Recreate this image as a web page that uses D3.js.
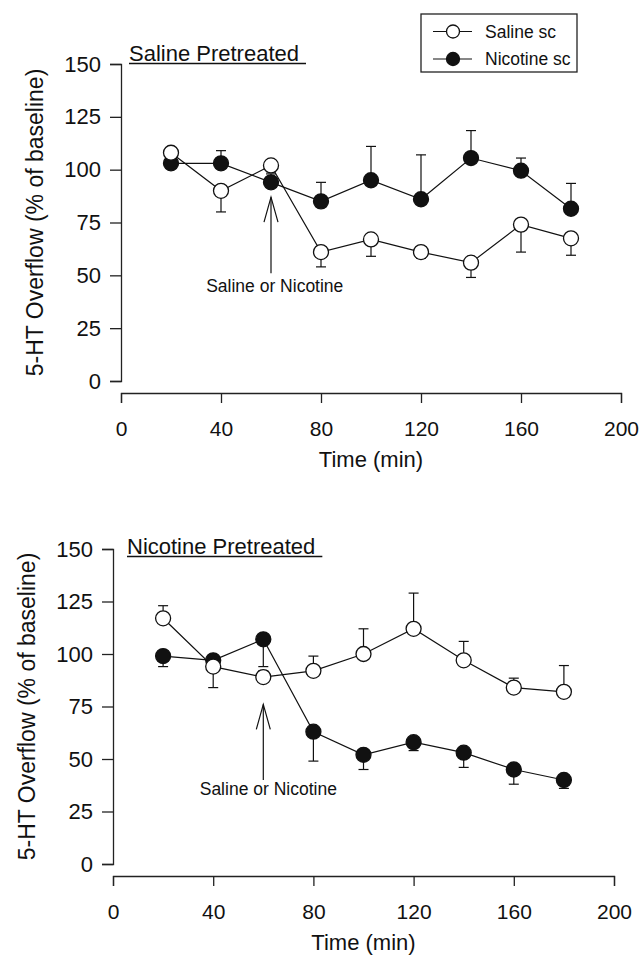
<!DOCTYPE html>
<html>
<head>
<meta charset="utf-8">
<script src="https://d3js.org/d3.v7.min.js"></script>
<style>
  body { margin: 0; background: #fff; }
  svg { display: block; }
</style>
</head>
<body>
<svg id="chart"></svg>
<script>
// data
const times = [20, 40, 60, 80, 100, 120, 140, 160, 180];
const xTicks = [0, 40, 80, 120, 160, 200];
const yTicks = [0, 25, 50, 75, 100, 125, 150];

// Saline pretreated (error: negative = bar drawn downward)
const salPreSaline = [108, 90, 102, 61, 67, 61, 56, 74, 67.5];
const salPreSalineErr = [-2, -10, -3, -7, -8, -3, -7, -13, -8];
const salPreNicotine = [103, 103, 94, 85, 95, 86, 105.5, 99.5, 81.5];
const salPreNicotineErr = [2, 6, 4, 9, 16, 21, 13, 6, 12];

// Nicotine pretreated
const nicPreSaline = [117, 94, 89, 92, 100, 112, 97, 84, 82];
const nicPreSalineErr = [6, -10, 3, 7, 12, 17, 9, 4.5, 12.5];
const nicPreNicotine = [99, 97, 107, 63, 52, 58, 53, 45, 40];
const nicPreNicotineErr = [-5, -3, -13, -14, -7, -4, -7, -7, -4];

// injection arrow (time, from value, to value) and its label (time, value)
const salPreArrow = [60, 51, 87];
const salPreLabel = [61.5, 42];
const nicPreArrow = [60, 40, 76];
const nicPreLabel = [62, 33];

const legendNames = ['Saline sc', 'Nicotine sc'];
const annotation = 'Saline or Nicotine';

const font = "'Liberation Sans', Arial, Helvetica, sans-serif";
const config = { width: 644, height: 955, r: 7.5, cap: 5 };

const panels = [
    { title: 'Saline Pretreated', sal: salPreSaline, salErr: salPreSalineErr,
      nic: salPreNicotine, nicErr: salPreNicotineErr, arrow: salPreArrow, label: salPreLabel,
      left: 121, right: 621, top: 64, bottom: 381, axisY: 393, titleX: 129, titleY: 61, legend: true },
    { title: 'Nicotine Pretreated', sal: nicPreSaline, salErr: nicPreSalineErr,
      nic: nicPreNicotine, nicErr: nicPreNicotineErr, arrow: nicPreArrow, label: nicPreLabel,
      left: 113, right: 614, top: 549, bottom: 864, axisY: 876, titleX: 127, titleY: 554, legend: false }
];

// 0) define svg
let svg = d3.select('#chart')
    .attr('width', config.width)
    .attr('height', config.height)
    .style('font-family', font);

const drawPanel = (p) => {
    let g = svg.append('g');

    // 1) scales
    let xScale = d3.scaleLinear().domain([0, 200]).range([p.left, p.right]);
    let yScale = d3.scaleLinear().domain([0, 150]).range([p.bottom, p.top]);

    // 2) axes
    let yAxis = g.append('g')
        .attr('transform', `translate(${p.left},0)`)
        .call(d3.axisLeft(yScale).tickValues(yTicks).tickSize(11).tickPadding(9));
    let xAxis = g.append('g')
        .attr('transform', `translate(0,${p.axisY})`)
        .call(d3.axisBottom(xScale).tickValues(xTicks).tickSize(10).tickPadding(18));
    [xAxis, yAxis].forEach(a => {
        a.selectAll('path, line').attr('stroke', '#222').attr('stroke-width', 1.3);
        a.selectAll('text').attr('fill', '#111').style('font-family', font);
    });
    xAxis.selectAll('text').style('font-size', '21px');
    yAxis.selectAll('text').style('font-size', '22px');

    g.append('text')
        .attr('x', (p.left + p.right) / 2)
        .attr('y', p.axisY + 74)
        .attr('text-anchor', 'middle')
        .style('font-size', '22px')
        .attr('fill', '#111')
        .text('Time (min)');

    g.append('text')
        .attr('transform', `translate(${p.left - 78},${(p.top + p.bottom) / 2}) rotate(-90)`)
        .attr('text-anchor', 'middle')
        .style('font-size', '23px')
        .attr('fill', '#111')
        .text('5-HT Overflow (% of baseline)');

    // 3) underlined panel title
    let t = g.append('text')
        .attr('x', p.titleX)
        .attr('y', p.titleY)
        .style('font-size', '22px')
        .attr('fill', '#111')
        .text(p.title);
    let tw = t.node().getComputedTextLength();
    g.append('line')
        .attr('x1', p.titleX).attr('x2', p.titleX + tw + 7)
        .attr('y1', p.titleY + 2.5).attr('y2', p.titleY + 2.5)
        .attr('stroke', '#111').attr('stroke-width', 1.4);

    // 4) arrow + label
    let ax = xScale(p.arrow[0]);
    let tipY = yScale(p.arrow[2]);
    g.append('line')
        .attr('x1', ax).attr('x2', ax)
        .attr('y1', yScale(p.arrow[1])).attr('y2', tipY)
        .attr('stroke', '#111').attr('stroke-width', 1.2);
    g.append('path')
        .attr('d', `M${ax - 7},${tipY + 25}L${ax},${tipY}L${ax + 7},${tipY + 25}`)
        .attr('fill', 'none').attr('stroke', '#111').attr('stroke-width', 1.2);
    g.append('text')
        .attr('x', xScale(p.label[0]))
        .attr('y', yScale(p.label[1]))
        .attr('text-anchor', 'middle')
        .style('font-size', '17.5px')
        .attr('fill', '#111')
        .text(annotation);

    // 5) error bars, lines, markers
    const series = [
        { vals: p.nic, err: p.nicErr, fill: '#111' },
        { vals: p.sal, err: p.salErr, fill: '#fff' }
    ];
    const line = d3.line().x((d, i) => xScale(times[i])).y(d => yScale(d));

    series.forEach(s => {
        let eb = g.append('g').selectAll('g')
            .data(s.vals.map((v, i) => ({ t: times[i], v: v, e: s.err[i] })))
            .enter()
            .append('g');
        eb.append('line')
            .attr('x1', d => xScale(d.t)).attr('x2', d => xScale(d.t))
            .attr('y1', d => yScale(d.v)).attr('y2', d => yScale(d.v + d.e));
        eb.append('line')
            .attr('x1', d => xScale(d.t) - config.cap).attr('x2', d => xScale(d.t) + config.cap)
            .attr('y1', d => yScale(d.v + d.e)).attr('y2', d => yScale(d.v + d.e));
        eb.selectAll('line').attr('stroke', '#111').attr('stroke-width', 1.2);
    });

    series.forEach(s => {
        g.append('path')
            .datum(s.vals)
            .attr('d', line)
            .attr('fill', 'none')
            .attr('stroke', '#111')
            .attr('stroke-width', 1.2);
    });

    series.forEach(s => {
        g.append('g').selectAll('circle')
            .data(s.vals)
            .enter()
            .append('circle')
            .attr('cx', (d, i) => xScale(times[i]))
            .attr('cy', d => yScale(d))
            .attr('r', config.r)
            .style('fill', s.fill)
            .style('stroke', '#111')
            .style('stroke-width', 1.3);
    });
};

panels.forEach(drawPanel);

// 6) legend (top panel only)
const legend = { x: 421, y: 14, w: 156, h: 58 };
let lg = svg.append('g');
lg.append('rect')
    .attr('x', legend.x).attr('y', legend.y)
    .attr('width', legend.w).attr('height', legend.h)
    .attr('fill', '#fff').attr('stroke', '#222').attr('stroke-width', 1.3);
const legendFill = ['#fff', '#111'];
legendNames.forEach((name, i) => {
    let cy = legend.y + 17.5 + i * 27.5;
    lg.append('line')
        .attr('x1', legend.x + 12).attr('x2', legend.x + 51)
        .attr('y1', cy).attr('y2', cy)
        .attr('stroke', '#111').attr('stroke-width', 1.2);
    lg.append('circle')
        .attr('cx', legend.x + 32).attr('cy', cy).attr('r', 6.5)
        .style('fill', legendFill[i]).style('stroke', '#111').style('stroke-width', 1.3);
    lg.append('text')
        .attr('x', legend.x + 64).attr('y', cy)
        .attr('dy', '0.36em')
        .style('font-size', '17.5px')
        .attr('fill', '#111')
        .text(name);
});
</script>
</body>
</html>
